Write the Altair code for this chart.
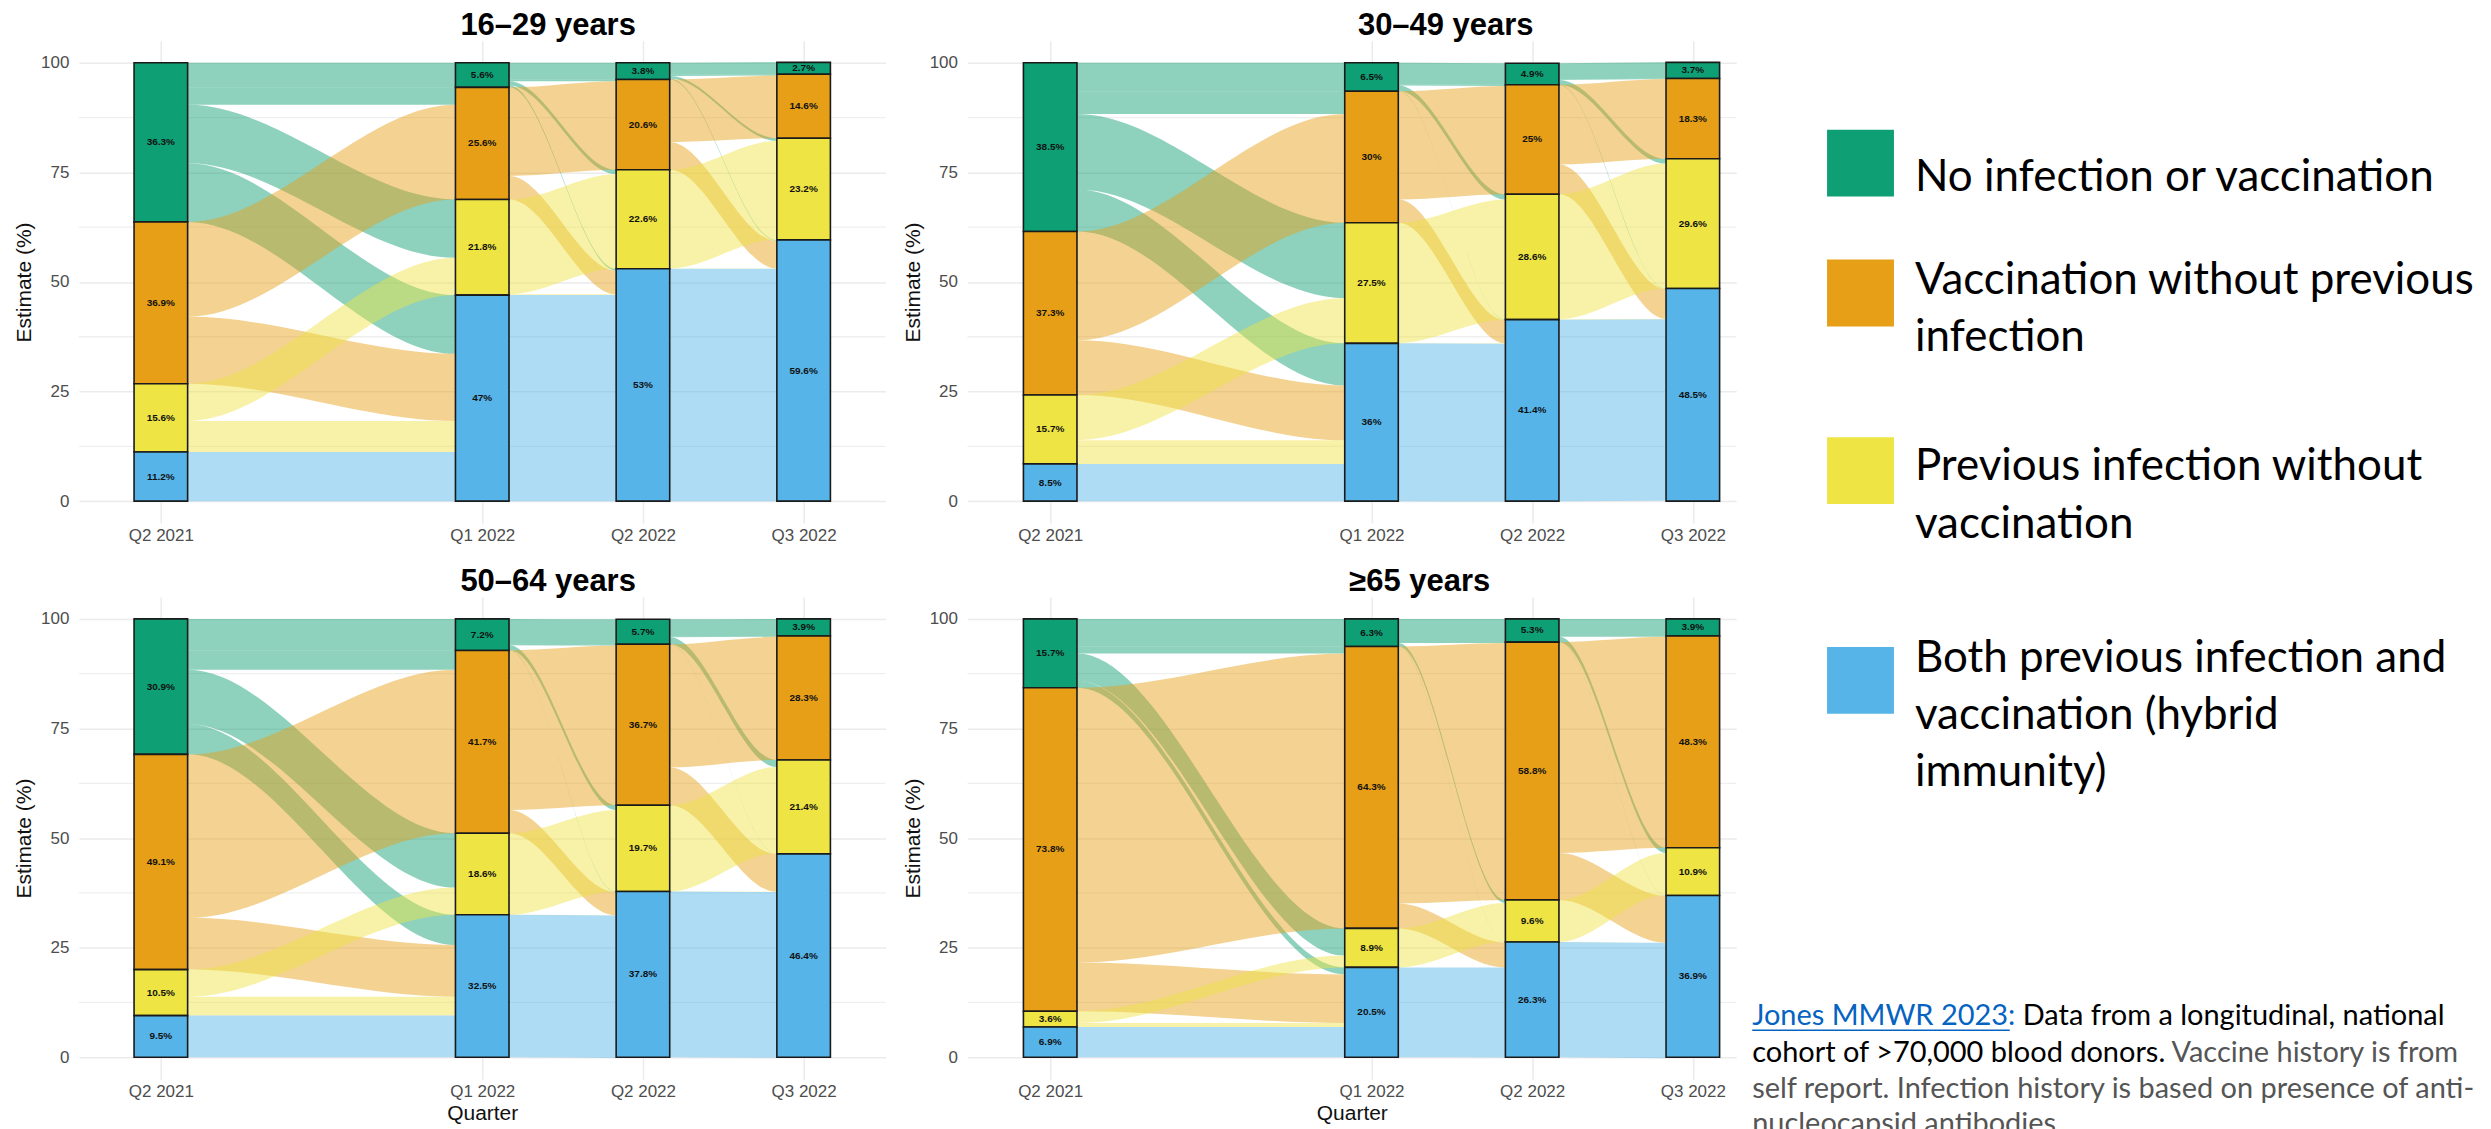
import altair as alt
import pandas as pd

# ---------------- data ----------------
QUARTERS = ["Q2 2021", "Q1 2022", "Q2 2022", "Q3 2022"]
QUARTER_INDEX = [1, 3, 4, 5]          # position of each quarter on the time axis

STATUS_KEYS = ["none", "vacc", "inf", "hybrid"]   # stacked top -> bottom
STATUS_LEGEND_LINES = [
    ["No infection or vaccination"],
    ["Vaccination without previous", "infection"],
    ["Previous infection without", "vaccination"],
    ["Both previous infection and", "vaccination (hybrid", "immunity)"],
]
COLORS = ["#0E9F74", "#E69F17", "#EEE443", "#56B4E9"]

AGE_GROUPS = ["16–29 years", "30–49 years", "50–64 years", "≥65 years"]

# estimates (%) rows: none, vacc, inf, hybrid ; columns: quarters
EST_16_29 = [[36.3, 5.6, 3.8, 2.7], [36.9, 25.6, 20.6, 14.6], [15.6, 21.8, 22.6, 23.2], [11.2, 47, 53, 59.6]]
EST_30_49 = [[38.5, 6.5, 4.9, 3.7], [37.3, 30, 25, 18.3], [15.7, 27.5, 28.6, 29.6], [8.5, 36, 41.4, 48.5]]
EST_50_64 = [[30.9, 7.2, 5.7, 3.9], [49.1, 41.7, 36.7, 28.3], [10.5, 18.6, 19.7, 21.4], [9.5, 32.5, 37.8, 46.4]]
EST_65 = [[15.7, 6.3, 5.3, 3.9], [73.8, 64.3, 58.8, 48.3], [3.6, 8.9, 9.6, 10.9], [6.9, 20.5, 26.3, 36.9]]

# transitions between consecutive quarters: from status (row) -> to status (column), % of donors
FLOWS_16_29 = [
    [[5.6, 4.0, 13.3, 13.4], [0, 21.6, 0, 15.3], [0, 0, 8.5, 7.1], [0, 0, 0, 11.2]],
    [[3.8, 0.4, 1.0, 0.4], [0, 20.2, 0, 5.4], [0, 0, 21.6, 0.2], [0, 0, 0, 47]],
    [[2.7, 0.3, 0.6, 0.2], [0, 14.3, 0, 6.3], [0, 0, 22.5, 0.1], [0, 0, 0, 53]],
]
FLOWS_30_49 = [
    [[6.5, 5.2, 17.2, 9.6], [0, 24.8, 0, 12.5], [0, 0, 10.3, 5.4], [0, 0, 0, 8.5]],
    [[4.9, 0.3, 1.2, 0.1], [0, 24.7, 0, 5.3], [0, 0, 27.4, 0.1], [0, 0, 0, 36]],
    [[3.7, 0.1, 1.1, 0.1], [0, 18.2, 0, 6.8], [0, 0, 28.5, 0.1], [0, 0, 0, 41.4]],
]
FLOWS_50_64 = [
    [[7.2, 4.4, 12.4, 6.9], [0, 37.3, 0, 11.8], [0, 0, 6.2, 4.3], [0, 0, 0, 9.5]],
    [[5.7, 0.3, 1.1, 0.1], [0, 36.4, 0, 5.3], [0, 0, 18.6, 0.05], [0, 0, 0, 32.5]],
    [[3.9, 0.2, 1.6, 0.05], [0, 28.1, 0, 8.6], [0, 0, 19.7, 0.05], [0, 0, 0, 37.8]],
]
FLOWS_65 = [
    [[6.3, 1.6, 6.2, 1.6], [0, 62.7, 0, 11.1], [0, 0, 2.7, 0.9], [0, 0, 0, 6.9]],
    [[5.3, 0.2, 0.7, 0.1], [0, 58.6, 0, 5.7], [0, 0, 8.9, 0.05], [0, 0, 0, 20.5]],
    [[3.9, 0.2, 1.2, 0.05], [0, 48.1, 0, 10.7], [0, 0, 9.6, 0.05], [0, 0, 0, 26.3]],
]

ESTIMATES = [EST_16_29, EST_30_49, EST_50_64, EST_65]
FLOWS = [FLOWS_16_29, FLOWS_30_49, FLOWS_50_64, FLOWS_65]

Y_TICKS = [0, 25, 50, 75, 100]
Y_MINOR = [12.5, 37.5, 62.5, 87.5]

NOTE_LINES = [
    [("Jones MMWR 2023:", "link"), ("Data from a longitudinal, national", "dark")],
    [("cohort of >70,000 blood donors.", "dark"), ("Vaccine history is from", "gray")],
    [("self report. Infection history is based on presence of anti-", "gray")],
    [("nucleocapsid antibodies.", "gray")],
]

# ---------------- style / layout ----------------
PLOT_FONT = "Liberation Sans"
SLIDE_FONT = "Lato"
TITLE_FONT = "Liberation Sans"
GRID = "#EBEBEB"
BAR_HALF = 1 / 6
PANEL_H = 483
PANEL_W = [808, 770, 808, 770]
X_DOMAINS = [[0.49, 5.51], [0.485, 5.27], [0.49, 5.51], [0.485, 5.27]]
TITLE_DX = [66, 94, 66, 68]

label_expr = " : ".join(
    f"datum.value == {v} ? '{q}'" for v, q in zip(QUARTER_INDEX, QUARTERS)
) + " : ''"


def stack_bounds(est):
    nq = len(est[0])
    lo = [[0.0] * nq for _ in est]
    hi = [[0.0] * nq for _ in est]
    for q in range(nq):
        base = 0.0
        for s in reversed(range(len(est))):
            lo[s][q] = base
            base += est[s][q]
            hi[s][q] = base
    return lo, hi


def panel(i, bottom_row):
    est = ESTIMATES[i]
    lo, hi = stack_bounds(est)

    bar_rows = []
    for s, key in enumerate(STATUS_KEYS):
        for q, xi in enumerate(QUARTER_INDEX):
            v = est[s][q]
            bar_rows.append(dict(status=key, xi=xi, x0=xi - BAR_HALF, x1=xi + BAR_HALF,
                                 lo=lo[s][q], hi=hi[s][q], mid=(lo[s][q] + hi[s][q]) / 2,
                                 label=f"{v:g}%"))
    bars = pd.DataFrame(bar_rows)

    flow_rows = []
    eps = 0.002
    for t, mat in enumerate(FLOWS[i]):
        xa = QUARTER_INDEX[t] + BAR_HALF
        xb = QUARTER_INDEX[t + 1] - BAR_HALF
        src = {}
        for s in range(4):
            top = hi[s][t]
            for d in range(4):
                f = mat[s][d]
                if f > 0:
                    src[(s, d)] = (top - f, top)
                    top -= f
        dst = {}
        for d in range(4):
            top = hi[d][t + 1]
            for s in range(4):
                f = mat[s][d]
                if f > 0:
                    dst[(s, d)] = (top - f, top)
                    top -= f
        for (s, d), (a0, a1) in src.items():
            b0, b1 = dst[(s, d)]
            fid = f"{t}-{s}-{d}"
            for xx, y0, y1 in [(xa, a0, a1), (xa + eps, a0, a1), (xb - eps, b0, b1), (xb, b0, b1)]:
                flow_rows.append(dict(flow=fid, src=STATUS_KEYS[s], x=xx, y0=y0, y1=y1))
    flows = pd.DataFrame(flow_rows)

    x_scale = alt.Scale(domain=X_DOMAINS[i], nice=False, zero=False)
    y_scale = alt.Scale(domain=[-5, 105], nice=False, zero=False)
    x_axis = alt.Axis(values=QUARTER_INDEX, labelExpr=label_expr, grid=True, gridColor=GRID,
                      gridWidth=1.5, domain=False, ticks=False, labelFont=PLOT_FONT,
                      labelFontSize=17, labelColor="#4D4D4D", labelPadding=4,
                      titleFont=PLOT_FONT, titleFontSize=21, titleFontWeight="normal",
                      titleColor="#111111", titlePadding=3, labelFlush=False)
    x_title = "Quarter" if bottom_row else None
    y_axis = alt.Axis(values=Y_TICKS, grid=True, gridColor=GRID, gridWidth=1.5, domain=False,
                      ticks=False, labelFont=PLOT_FONT, labelFontSize=17, labelColor="#4D4D4D",
                      labelPadding=10, title="Estimate (%)", titleFont=PLOT_FONT,
                      titleFontSize=21, titleFontWeight="normal", titleColor="#111111",
                      titlePadding=6)

    minor = alt.Chart(pd.DataFrame({"y": Y_MINOR})).mark_rule(
        color="#EFEFEF", strokeWidth=1.3
    ).encode(y=alt.Y("y:Q", scale=y_scale, axis=y_axis))

    layers = [minor]
    for s, key in enumerate(STATUS_KEYS):
        sub = flows[flows["src"] == key]
        if len(sub) == 0:
            continue
        layers.append(
            alt.Chart(sub).mark_area(interpolate="monotone", opacity=0.47, color=COLORS[s]).encode(
                x=alt.X("x:Q", scale=x_scale, axis=x_axis, title=x_title),
                y=alt.Y("y0:Q", scale=y_scale, axis=y_axis, stack=None),
                y2="y1:Q",
                detail="flow:N",
            )
        )
    rects = alt.Chart(bars).mark_rect(stroke="#1A1A1A", strokeWidth=1.6).encode(
        x=alt.X("x0:Q", scale=x_scale, axis=x_axis, title=x_title),
        x2="x1:Q",
        y=alt.Y("lo:Q", scale=y_scale, axis=y_axis),
        y2="hi:Q",
        fill=alt.Fill("status:N", scale=alt.Scale(domain=STATUS_KEYS, range=COLORS), legend=None),
    )
    texts = alt.Chart(bars).mark_text(font=PLOT_FONT, fontWeight="bold", fontSize=10,
                                      color="#111111").encode(
        x=alt.X("xi:Q", scale=x_scale, axis=x_axis, title=x_title),
        y=alt.Y("mid:Q", scale=y_scale, axis=y_axis),
        text="label:N",
    )
    layers += [rects, texts]
    return alt.layer(*layers).properties(
        width=PANEL_W[i], height=PANEL_H,
        title=alt.TitleParams(AGE_GROUPS[i], font=TITLE_FONT, fontSize=31, fontWeight="bold",
                              color="#000000", anchor="middle", dx=TITLE_DX[i], offset=-1),
    )


# ---------------- side: legend + note ----------------
XS, SW = 1746, 737
YS = 41
SH = 1129 - YS
sx = alt.Scale(domain=[XS, XS + SW], nice=False, zero=False)
sy = alt.Scale(domain=[YS, YS + SH], nice=False, zero=False, reverse=True)

SQUARE_TOP = [130, 260, 438, 648]
SQUARE_SIZE = 67
SQUARE_LEFT = 1826
LEGEND_TEXT_X = 1914
LEGEND_LINE_Y = [[178], [282, 339], [468, 526], [660, 717, 774]]

sq_rows, lg_rows = [], []
for s, key in enumerate(STATUS_KEYS):
    sq_rows.append(dict(status=key, x0=SQUARE_LEFT, x1=SQUARE_LEFT + SQUARE_SIZE,
                        y0=SQUARE_TOP[s], y1=SQUARE_TOP[s] + SQUARE_SIZE))
    for line, yy in zip(STATUS_LEGEND_LINES[s], LEGEND_LINE_Y[s]):
        lg_rows.append(dict(text=line, x=LEGEND_TEXT_X, y=yy))

NOTE_X = [[1751, 2022], [1751, 2171], [1751], [1751]]
NOTE_Y = [1018, 1055, 1091, 1126]
LINK_END = 2009
NOTE_COLORS = {"link": "#0563C1", "dark": "#000000", "gray": "#555555"}
note_rows = []
for li, segs in enumerate(NOTE_LINES):
    for (txt, kind), xx in zip(segs, NOTE_X[li]):
        note_rows.append(dict(text=txt, kind=kind, x=xx, y=NOTE_Y[li]))
notes = pd.DataFrame(note_rows)

squares = alt.Chart(pd.DataFrame(sq_rows)).mark_rect().encode(
    x=alt.X("x0:Q", scale=sx, axis=None), x2="x1:Q",
    y=alt.Y("y0:Q", scale=sy, axis=None), y2="y1:Q",
    fill=alt.Fill("status:N", scale=alt.Scale(domain=STATUS_KEYS, range=COLORS), legend=None),
)
legend_text = alt.Chart(pd.DataFrame(lg_rows)).mark_text(
    font=SLIDE_FONT, fontSize=44, align="left", baseline="middle", color="#000000"
).encode(x=alt.X("x:Q", scale=sx, axis=None), y=alt.Y("y:Q", scale=sy, axis=None), text="text:N")
note_text = alt.Chart(notes).mark_text(
    font=SLIDE_FONT, fontSize=29, align="left", baseline="middle"
).encode(
    x=alt.X("x:Q", scale=sx, axis=None), y=alt.Y("y:Q", scale=sy, axis=None), text="text:N",
    color=alt.Color("kind:N", scale=alt.Scale(domain=list(NOTE_COLORS), range=list(NOTE_COLORS.values())), legend=None),
)
link = notes[notes["kind"] == "link"].assign(x1=LINK_END, yl=NOTE_Y[0] + 14)
underline = alt.Chart(link).mark_rule(color="#0563C1", strokeWidth=1.6).encode(
    x=alt.X("x:Q", scale=sx, axis=None), x2="x1:Q", y=alt.Y("yl:Q", scale=sy, axis=None)
)
side = alt.layer(squares, legend_text, note_text, underline).properties(width=SW, height=SH)

row1 = alt.hconcat(panel(0, False), panel(1, False), spacing=15)
row2 = alt.hconcat(panel(2, True), panel(3, True), spacing=15)
grid = alt.vconcat(row1, row2, spacing=23)

chart = alt.hconcat(grid, side, spacing=10).properties(
    padding={"left": 5, "top": 1, "right": 0, "bottom": 0}, background="white"
).configure_view(stroke=None, strokeWidth=0)

chart.save("out.html", embed_options={"renderer": "svg", "actions": False})
